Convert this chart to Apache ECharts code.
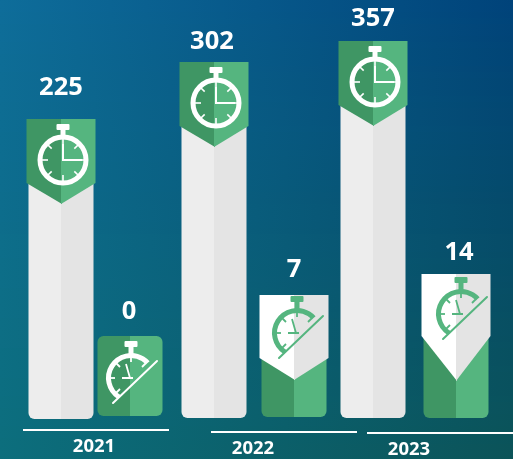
<!DOCTYPE html>
<html><head><meta charset="utf-8">
<style>html,body{margin:0;padding:0;background:#0a5f7c}#c{width:513px;height:459px}</style>
<script src="https://cdn.jsdelivr.net/npm/echarts@6/dist/echarts.min.js"></script>
</head><body><div id="c"></div>
<script>
// --- data ---
const categories = ['2021 A', '2021 B', '2022 A', '2022 B', '2023 A', '2023 B'];
const values = [225, 0, 302, 7, 357, 14];
// the drawn bars are not proportional to their labels: height of each bar as pictured
const pictureLevels = [300, 83, 357, 124, 378, 145];
const years = ['2021', '2022', '2023'];

// --- layout ---
const GRID = {left: 20, width: 476, top: 0, height: 419};
const nudgeX = [1, -9, -4, -4, -4, 0];
const bottomInset = [0, 3, 1, 2, 1, 1];
const labelGap = [31, 24, 20, 25, 22, 21];
const labelNudgeX = [0, -1, -2, 0, 0, 3];
const iconDrop = [0, 42, 0, 38, 0, 40];
const iconNudgeX = [2, 1, 2, 3, 2, 5];
const BAR_W = 65, BAN_W = 69;
const banSide = [64, 0, 64, 63, 64, 62];
const banTip = [85, 0, 85, 85, 85, 107];
const C = {gL: '#3f9664', gR: '#55b57f', eL: '#ededed', eR: '#e4e4e4'};
const yearMarks = [
  {x0: 23, x1: 169, y: 430, tx: 94, ty: 447},
  {x0: 211, x1: 357, y: 432, tx: 253, ty: 449},
  {x0: 367, x1: 513, y: 433, tx: 409, ty: 450}
];
// background corner colours [r,g,b]
const BG = {tl: [14, 109, 154], tr: [0, 67, 122], bl: [12, 110, 124], br: [11, 84, 88]};
const mix = (a, b, t) => a.map((v, k) => Math.round(v + (b[k] - v) * t));
const rgb = c => 'rgb(' + c.join(',') + ')';
const bgStrips = [];
for (let y = 0; y < 459; y += 6) {
  const t = y / 459;
  bgStrips.push({type: 'rect', z: -10, silent: true, shape: {x: 0, y, width: 513, height: 7},
    style: {fill: new echarts.graphic.LinearGradient(0, 0, 1, 0, [
      {offset: 0, color: rgb(mix(BG.tl, BG.bl, t))}, {offset: 1, color: rgb(mix(BG.tr, BG.br, t))}])}});
}

function fullClock(cx, top, color) {
  const cy = top + 41, out = [];
  out.push({type: 'circle', shape: {cx, cy, r: 23}, style: {fill: 'none', stroke: color, lineWidth: 5}});
  out.push({type: 'rect', shape: {x: cx - 6.5, y: top + 5, width: 13, height: 6, r: 1}, style: {fill: color}});
  out.push({type: 'rect', shape: {x: cx - 2.5, y: top + 10, width: 5, height: 6}, style: {fill: color}});
  for (let i = 0; i < 8; i++) {
    const a = i * Math.PI / 4, s = Math.sin(a), c = Math.cos(a), r0 = i % 2 ? 16 : 15;
    out.push({type: 'line', shape: {x1: cx + s * r0, y1: cy - c * r0, x2: cx + s * 22, y2: cy - c * 22},
      style: {stroke: color, lineWidth: 1.6}});
  }
  out.push({type: 'polyline', shape: {points: [[cx, cy - 16], [cx, cy], [cx + 19, cy]]},
    style: {fill: 'none', stroke: color, lineWidth: 2}});
  return out;
}

function crossedClock(cx, cy, color) {
  const out = [];
  const d = Math.PI / 180;
  out.push({type: 'arc', shape: {cx, cy, r: 22.5, startAngle: 122 * d, endAngle: 318 * d, clockwise: true},
    style: {fill: 'none', stroke: color, lineWidth: 5}});
  out.push({type: 'rect', shape: {x: cx - 6.5, y: cy - 37, width: 13, height: 6, r: 1}, style: {fill: color}});
  out.push({type: 'rect', shape: {x: cx - 2.5, y: cy - 32, width: 5, height: 8}, style: {fill: color}});
  [[0, -22, 0, -16], [-15, -15, -11, -11], [-22, 0, -16, 0], [-15, 15, -11, 11], [15, -15, 11, -11]].forEach(t => {
    out.push({type: 'line', shape: {x1: cx + t[0], y1: cy + t[1], x2: cx + t[2], y2: cy + t[3]},
      style: {stroke: color, lineWidth: 1.8}});
  });
  out.push({type: 'polyline', shape: {points: [[cx - 5, cy - 14], [cx - 1, cy], [cx - 9, cy], [cx + 2, cy]]},
    style: {fill: 'none', stroke: color, lineWidth: 1.8}});
  out.push({type: 'line', shape: {x1: cx - 18, y1: cy + 25, x2: cx + 26, y2: cy - 17},
    style: {stroke: color, lineWidth: 2, lineCap: 'round'}});
  return out;
}

function renderBar(params, api) {
  const i = params.dataIndex;
  const p = api.coord([api.value(0), api.value(1)]);
  const cx = Math.round(p[0] + nudgeX[i]), top = p[1];
  const bottom = api.coord([api.value(0), 0])[1] - bottomInset[i];
  const val = api.value(2), big = val > 100, none = val === 0;
  const bL = big ? C.eL : C.gL, bR = big ? C.eR : C.gR;
  const kids = [];
  const h = bottom - top;
  // rounded full bar in the left colour, right half painted over it with a hard edge
  kids.push({type: 'rect', shape: {x: cx - BAR_W / 2, y: top, width: BAR_W / 2 + 1, height: h, r: [6, 0, 0, 6]}, style: {fill: bL}});
  kids.push({type: 'rect', shape: {x: cx, y: top, width: BAR_W / 2, height: h, r: [0, 6, 6, 0]}, style: {fill: bR}});
  if (none) {
    kids.push(...crossedClock(cx + iconNudgeX[i], top + iconDrop[i], '#ffffff'));
  } else {
    const hw = BAN_W / 2, side = banSide[i], tip = banTip[i];
    const sideL = big ? C.gL : '#ffffff', sideR = big ? C.gR : '#e4e4e4';
    kids.push({type: 'polygon', shape: {points: [[cx - hw, top], [cx + 1, top], [cx + 1, top + tip], [cx - hw, top + side]]}, style: {fill: sideL}});
    kids.push({type: 'polygon', shape: {points: [[cx, top], [cx + hw, top], [cx + hw, top + side], [cx, top + tip]]}, style: {fill: sideR}});
    if (big) kids.push(...fullClock(cx + iconNudgeX[i], top, '#ffffff'));
    else kids.push(...crossedClock(cx + iconNudgeX[i], top + iconDrop[i], C.gR));
  }
  kids.push({type: 'text', style: {x: cx + labelNudgeX[i], y: top - labelGap[i], text: String(val), fill: '#ffffff',
    font: 'bold 25.5px "Noto Sans"', textAlign: 'center', textVerticalAlign: 'middle'}});
  return {type: 'group', children: kids};
}

const chart = echarts.init(document.getElementById('c'), null, {renderer: 'canvas'});
chart.setOption({
  animation: false,
  graphic: [
    ...bgStrips,
    ...yearMarks.flatMap((m, i) => [
      {type: 'line', shape: {x1: m.x0, y1: m.y, x2: m.x1, y2: m.y}, style: {stroke: '#ffffff', lineWidth: 2}},
      {type: 'text', style: {x: m.tx, y: m.ty, text: years[i], fill: '#ffffff', font: 'bold 18.5px "Noto Sans"',
        textAlign: 'center', textVerticalAlign: 'middle'}}
    ])
  ],
  grid: GRID,
  xAxis: {type: 'category', data: categories, show: false},
  yAxis: {type: 'value', min: 0, max: 419, show: false},
  series: [{
    type: 'custom',
    clip: false,
    renderItem: renderBar,
    encode: {x: 0, y: 1},
    data: values.map((v, i) => [i, pictureLevels[i], v])
  }]
});
</script></body></html>
